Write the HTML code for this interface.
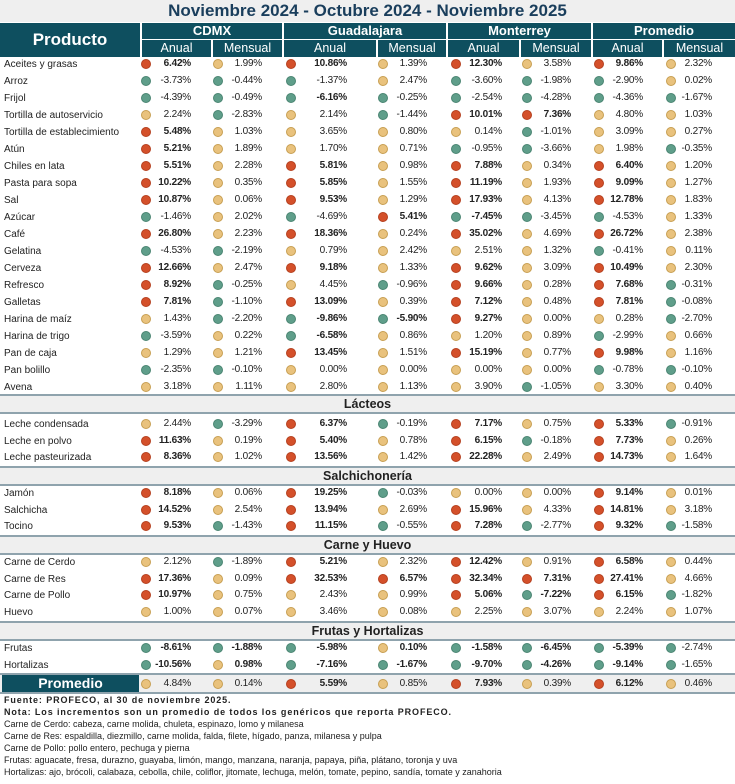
<!DOCTYPE html>
<html><head><meta charset="utf-8"><style>
*{margin:0;padding:0;box-sizing:border-box}
body{width:735px;height:784px;background:#fff;position:relative;overflow:hidden;font-family:"Liberation Sans",sans-serif;color:#222}
.title{position:absolute;left:0;top:0;width:735px;height:22px;background:#efefef;text-align:center;font-weight:bold;font-size:17px;line-height:22px;color:#1a3e5c}
.hd{position:absolute;background:#0e4f5f;color:#fff;font-weight:bold;text-align:center}
.hs{position:absolute;background:#0e4f5f;color:#fff;text-align:center;font-size:12.5px;line-height:16px}
.r{position:absolute;left:0;width:735px;height:16px;line-height:16px;font-size:10px;letter-spacing:-0.2px}
.r .l{position:absolute;left:4px;top:1px;font-size:10px;font-style:normal;letter-spacing:0}
.r span{position:absolute;top:0;text-align:right;white-space:nowrap}
.r span::before{content:"";position:absolute;left:0;top:3px;width:10px;height:10px;border-radius:50%;box-sizing:border-box}
.R::before{background:#d4502a;border:1px solid #b5401f}
.Y::before{background:#e9c27d;border:1px solid #c79f52}
.G::before{background:#5f9e8a;border:1px solid #4a8572}
.B{font-weight:bold}
.a{left:141px;width:50px}.b{left:213px;width:49px}.c{left:286px;width:61px}.d{left:378px;width:49px}
.e{left:451px;width:51px}.f{left:522px;width:49px}.g{left:594px;width:49px}.h{left:666px;width:46px}
.sec{position:absolute;left:0;width:735px;height:20px;background:#efefef;border-top:2px solid #8fa3ad;border-bottom:2px solid #8fa3ad;text-align:center;font-weight:bold;font-size:12.5px;line-height:16px}
.ft{position:absolute;left:4px;font-size:9px;line-height:12px;white-space:nowrap;letter-spacing:0}
.fb{font-weight:bold;letter-spacing:0.9px;font-size:9px}
</style></head><body>
<div class="title">Noviembre 2024 - Octubre 2024 - Noviembre 2025</div>
<div class="hd" style="left:0;top:23px;width:140px;height:34px;font-size:17px;line-height:34px">Producto</div>
<div class="hd" style="left:142px;top:23px;width:140px;height:16px;font-size:13px;line-height:16px">CDMX</div>
<div class="hd" style="left:284px;top:23px;width:162px;height:16px;font-size:13px;line-height:16px">Guadalajara</div>
<div class="hd" style="left:448px;top:23px;width:143px;height:16px;font-size:13px;line-height:16px">Monterrey</div>
<div class="hd" style="left:593px;top:23px;width:142px;height:16px;font-size:13px;line-height:16px">Promedio</div>
<div class="hs" style="left:142px;top:40px;width:69px;height:17px">Anual</div>
<div class="hs" style="left:213px;top:40px;width:69px;height:17px">Mensual</div>
<div class="hs" style="left:284px;top:40px;width:92px;height:17px">Anual</div>
<div class="hs" style="left:378px;top:40px;width:68px;height:17px">Mensual</div>
<div class="hs" style="left:448px;top:40px;width:71px;height:17px">Anual</div>
<div class="hs" style="left:521px;top:40px;width:70px;height:17px">Mensual</div>
<div class="hs" style="left:593px;top:40px;width:69px;height:17px">Anual</div>
<div class="hs" style="left:664px;top:40px;width:71px;height:17px">Mensual</div>

<div class="r" style="top:56px"><i class="l">Aceites y grasas</i><span class="a R B">6.42%</span><span class="b Y">1.99%</span><span class="c R B">10.86%</span><span class="d Y">1.39%</span><span class="e R B">12.30%</span><span class="f Y">3.58%</span><span class="g R B">9.86%</span><span class="h Y">2.32%</span></div>
<div class="r" style="top:73px"><i class="l">Arroz</i><span class="a G">-3.73%</span><span class="b G">-0.44%</span><span class="c G">-1.37%</span><span class="d Y">2.47%</span><span class="e G">-3.60%</span><span class="f G">-1.98%</span><span class="g G">-2.90%</span><span class="h Y">0.02%</span></div>
<div class="r" style="top:90px"><i class="l">Frijol</i><span class="a G">-4.39%</span><span class="b G">-0.49%</span><span class="c G B">-6.16%</span><span class="d G">-0.25%</span><span class="e G">-2.54%</span><span class="f G">-4.28%</span><span class="g G">-4.36%</span><span class="h G">-1.67%</span></div>
<div class="r" style="top:107px"><i class="l">Tortilla de autoservicio</i><span class="a Y">2.24%</span><span class="b G">-2.83%</span><span class="c Y">2.14%</span><span class="d G">-1.44%</span><span class="e R B">10.01%</span><span class="f R B">7.36%</span><span class="g Y">4.80%</span><span class="h Y">1.03%</span></div>
<div class="r" style="top:124px"><i class="l">Tortilla de establecimiento</i><span class="a R B">5.48%</span><span class="b Y">1.03%</span><span class="c Y">3.65%</span><span class="d Y">0.80%</span><span class="e Y">0.14%</span><span class="f G">-1.01%</span><span class="g Y">3.09%</span><span class="h Y">0.27%</span></div>
<div class="r" style="top:141px"><i class="l">Atún</i><span class="a R B">5.21%</span><span class="b Y">1.89%</span><span class="c Y">1.70%</span><span class="d Y">0.71%</span><span class="e G">-0.95%</span><span class="f G">-3.66%</span><span class="g Y">1.98%</span><span class="h G">-0.35%</span></div>
<div class="r" style="top:158px"><i class="l">Chiles en lata</i><span class="a R B">5.51%</span><span class="b Y">2.28%</span><span class="c R B">5.81%</span><span class="d Y">0.98%</span><span class="e R B">7.88%</span><span class="f Y">0.34%</span><span class="g R B">6.40%</span><span class="h Y">1.20%</span></div>
<div class="r" style="top:175px"><i class="l">Pasta para sopa</i><span class="a R B">10.22%</span><span class="b Y">0.35%</span><span class="c R B">5.85%</span><span class="d Y">1.55%</span><span class="e R B">11.19%</span><span class="f Y">1.93%</span><span class="g R B">9.09%</span><span class="h Y">1.27%</span></div>
<div class="r" style="top:192px"><i class="l">Sal</i><span class="a R B">10.87%</span><span class="b Y">0.06%</span><span class="c R B">9.53%</span><span class="d Y">1.29%</span><span class="e R B">17.93%</span><span class="f Y">4.13%</span><span class="g R B">12.78%</span><span class="h Y">1.83%</span></div>
<div class="r" style="top:209px"><i class="l">Azúcar</i><span class="a G">-1.46%</span><span class="b Y">2.02%</span><span class="c G">-4.69%</span><span class="d R B">5.41%</span><span class="e G B">-7.45%</span><span class="f G">-3.45%</span><span class="g G">-4.53%</span><span class="h Y">1.33%</span></div>
<div class="r" style="top:226px"><i class="l">Café</i><span class="a R B">26.80%</span><span class="b Y">2.23%</span><span class="c R B">18.36%</span><span class="d Y">0.24%</span><span class="e R B">35.02%</span><span class="f Y">4.69%</span><span class="g R B">26.72%</span><span class="h Y">2.38%</span></div>
<div class="r" style="top:243px"><i class="l">Gelatina</i><span class="a G">-4.53%</span><span class="b G">-2.19%</span><span class="c Y">0.79%</span><span class="d Y">2.42%</span><span class="e Y">2.51%</span><span class="f Y">1.32%</span><span class="g G">-0.41%</span><span class="h Y">0.11%</span></div>
<div class="r" style="top:260px"><i class="l">Cerveza</i><span class="a R B">12.66%</span><span class="b Y">2.47%</span><span class="c R B">9.18%</span><span class="d Y">1.33%</span><span class="e R B">9.62%</span><span class="f Y">3.09%</span><span class="g R B">10.49%</span><span class="h Y">2.30%</span></div>
<div class="r" style="top:277px"><i class="l">Refresco</i><span class="a R B">8.92%</span><span class="b G">-0.25%</span><span class="c Y">4.45%</span><span class="d G">-0.96%</span><span class="e R B">9.66%</span><span class="f Y">0.28%</span><span class="g R B">7.68%</span><span class="h G">-0.31%</span></div>
<div class="r" style="top:294px"><i class="l">Galletas</i><span class="a R B">7.81%</span><span class="b G">-1.10%</span><span class="c R B">13.09%</span><span class="d Y">0.39%</span><span class="e R B">7.12%</span><span class="f Y">0.48%</span><span class="g R B">7.81%</span><span class="h G">-0.08%</span></div>
<div class="r" style="top:311px"><i class="l">Harina de maíz</i><span class="a Y">1.43%</span><span class="b G">-2.20%</span><span class="c G B">-9.86%</span><span class="d G B">-5.90%</span><span class="e R B">9.27%</span><span class="f Y">0.00%</span><span class="g Y">0.28%</span><span class="h G">-2.70%</span></div>
<div class="r" style="top:328px"><i class="l">Harina de trigo</i><span class="a G">-3.59%</span><span class="b Y">0.22%</span><span class="c G B">-6.58%</span><span class="d Y">0.86%</span><span class="e Y">1.20%</span><span class="f Y">0.89%</span><span class="g G">-2.99%</span><span class="h Y">0.66%</span></div>
<div class="r" style="top:345px"><i class="l">Pan de caja</i><span class="a Y">1.29%</span><span class="b Y">1.21%</span><span class="c R B">13.45%</span><span class="d Y">1.51%</span><span class="e R B">15.19%</span><span class="f Y">0.77%</span><span class="g R B">9.98%</span><span class="h Y">1.16%</span></div>
<div class="r" style="top:362px"><i class="l">Pan bolillo</i><span class="a G">-2.35%</span><span class="b G">-0.10%</span><span class="c Y">0.00%</span><span class="d Y">0.00%</span><span class="e Y">0.00%</span><span class="f Y">0.00%</span><span class="g G">-0.78%</span><span class="h G">-0.10%</span></div>
<div class="r" style="top:379px"><i class="l">Avena</i><span class="a Y">3.18%</span><span class="b Y">1.11%</span><span class="c Y">2.80%</span><span class="d Y">1.13%</span><span class="e Y">3.90%</span><span class="f G">-1.05%</span><span class="g Y">3.30%</span><span class="h Y">0.40%</span></div>

<div class="sec" style="top:394px">Lácteos</div>
<div class="r" style="top:416px"><i class="l">Leche condensada</i><span class="a Y">2.44%</span><span class="b G">-3.29%</span><span class="c R B">6.37%</span><span class="d G">-0.19%</span><span class="e R B">7.17%</span><span class="f Y">0.75%</span><span class="g R B">5.33%</span><span class="h G">-0.91%</span></div>
<div class="r" style="top:433px"><i class="l">Leche en polvo</i><span class="a R B">11.63%</span><span class="b Y">0.19%</span><span class="c R B">5.40%</span><span class="d Y">0.78%</span><span class="e R B">6.15%</span><span class="f G">-0.18%</span><span class="g R B">7.73%</span><span class="h Y">0.26%</span></div>
<div class="r" style="top:449px"><i class="l">Leche pasteurizada</i><span class="a R B">8.36%</span><span class="b Y">1.02%</span><span class="c R B">13.56%</span><span class="d Y">1.42%</span><span class="e R B">22.28%</span><span class="f Y">2.49%</span><span class="g R B">14.73%</span><span class="h Y">1.64%</span></div>

<div class="sec" style="top:466px">Salchichonería</div>
<div class="r" style="top:485px"><i class="l">Jamón</i><span class="a R B">8.18%</span><span class="b Y">0.06%</span><span class="c R B">19.25%</span><span class="d G">-0.03%</span><span class="e Y">0.00%</span><span class="f Y">0.00%</span><span class="g R B">9.14%</span><span class="h Y">0.01%</span></div>
<div class="r" style="top:502px"><i class="l">Salchicha</i><span class="a R B">14.52%</span><span class="b Y">2.54%</span><span class="c R B">13.94%</span><span class="d Y">2.69%</span><span class="e R B">15.96%</span><span class="f Y">4.33%</span><span class="g R B">14.81%</span><span class="h Y">3.18%</span></div>
<div class="r" style="top:518px"><i class="l">Tocino</i><span class="a R B">9.53%</span><span class="b G">-1.43%</span><span class="c R B">11.15%</span><span class="d G">-0.55%</span><span class="e R B">7.28%</span><span class="f G">-2.77%</span><span class="g R B">9.32%</span><span class="h G">-1.58%</span></div>

<div class="sec" style="top:535px">Carne y Huevo</div>
<div class="r" style="top:554px"><i class="l">Carne de Cerdo</i><span class="a Y">2.12%</span><span class="b G">-1.89%</span><span class="c R B">5.21%</span><span class="d Y">2.32%</span><span class="e R B">12.42%</span><span class="f Y">0.91%</span><span class="g R B">6.58%</span><span class="h Y">0.44%</span></div>
<div class="r" style="top:571px"><i class="l">Carne de Res</i><span class="a R B">17.36%</span><span class="b Y">0.09%</span><span class="c R B">32.53%</span><span class="d R B">6.57%</span><span class="e R B">32.34%</span><span class="f R B">7.31%</span><span class="g R B">27.41%</span><span class="h Y">4.66%</span></div>
<div class="r" style="top:587px"><i class="l">Carne de Pollo</i><span class="a R B">10.97%</span><span class="b Y">0.75%</span><span class="c Y">2.43%</span><span class="d Y">0.99%</span><span class="e R B">5.06%</span><span class="f G B">-7.22%</span><span class="g R B">6.15%</span><span class="h G">-1.82%</span></div>
<div class="r" style="top:604px"><i class="l">Huevo</i><span class="a Y">1.00%</span><span class="b Y">0.07%</span><span class="c Y">3.46%</span><span class="d Y">0.08%</span><span class="e Y">2.25%</span><span class="f Y">3.07%</span><span class="g Y">2.24%</span><span class="h Y">1.07%</span></div>

<div class="sec" style="top:621px">Frutas y Hortalizas</div>
<div class="r" style="top:640px"><i class="l">Frutas</i><span class="a G B">-8.61%</span><span class="b G B">-1.88%</span><span class="c G B">-5.98%</span><span class="d Y B">0.10%</span><span class="e G B">-1.58%</span><span class="f G B">-6.45%</span><span class="g G B">-5.39%</span><span class="h G">-2.74%</span></div>
<div class="r" style="top:657px"><i class="l">Hortalizas</i><span class="a G B">-10.56%</span><span class="b Y B">0.98%</span><span class="c G B">-7.16%</span><span class="d G B">-1.67%</span><span class="e G B">-9.70%</span><span class="f G B">-4.26%</span><span class="g G B">-9.14%</span><span class="h G">-1.65%</span></div>

<div style="position:absolute;left:0;top:673px;width:735px;height:21px;background:#efefef;border-top:2px solid #8fa3ad;border-bottom:2px solid #8fa3ad"></div>
<div class="hd" style="left:2px;top:675px;width:137px;height:17px;font-size:14px;line-height:17px">Promedio</div>
<div class="r" style="top:676px"><span class="a Y">4.84%</span><span class="b Y">0.14%</span><span class="c R B">5.59%</span><span class="d Y">0.85%</span><span class="e R B">7.93%</span><span class="f Y">0.39%</span><span class="g R B">6.12%</span><span class="h Y">0.46%</span></div>

<div class="ft fb" style="top:694px">Fuente: PROFECO, al 30 de noviembre 2025.</div>
<div class="ft fb" style="top:706px">Nota: Los incrementos son un promedio de todos los genéricos que reporta PROFECO.</div>
<div class="ft" style="top:718px">Carne de Cerdo: cabeza, carne molida, chuleta, espinazo, lomo y milanesa</div>
<div class="ft" style="top:730px">Carne de Res: espaldilla, diezmillo, carne molida, falda, filete, hígado, panza, milanesa y pulpa</div>
<div class="ft" style="top:742px">Carne de Pollo: pollo entero, pechuga y pierna</div>
<div class="ft" style="top:754px">Frutas: aguacate, fresa, durazno, guayaba, limón, mango, manzana, naranja, papaya, piña, plátano, toronja y uva</div>
<div class="ft" style="top:766px">Hortalizas: ajo, brócoli, calabaza, cebolla, chile, coliflor, jitomate, lechuga, melón, tomate, pepino, sandía, tomate y zanahoria</div>
</body></html>
